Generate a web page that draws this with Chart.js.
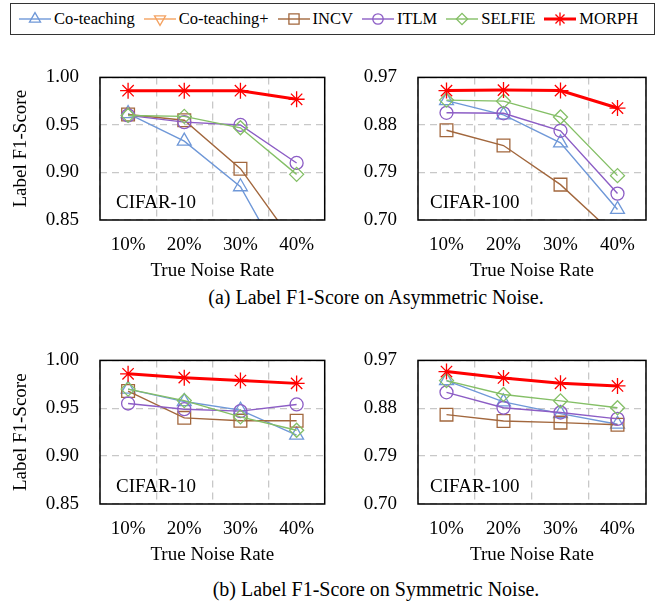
<!DOCTYPE html>
<html>
<head>
<meta charset="utf-8">
<script src="https://cdn.jsdelivr.net/npm/chart.js@4.4.0/dist/chart.umd.min.js"></script>
<style>
body { margin: 0; background: #fff; width: 664px; height: 606px; position: relative; overflow: hidden; font-family: "Liberation Serif", "DejaVu Serif", serif; color: #000; }
canvas.panel { position: absolute; }
#legend { position: absolute; left: 10px; top: 3px; width: 645px; height: 32px; box-sizing: border-box; border: 1.5px solid #333; display: flex; align-items: center; gap: 9px; padding-left: 8px; font-size: 16.5px; }
#legend .item { display: flex; align-items: center; gap: 3px; white-space: nowrap; }
.caption { position: absolute; left: 0; width: 752px; text-align: center; font-size: 20px; white-space: nowrap; }
</style>
</head>
<body>
<div id="legend"></div>
<canvas class="panel" id="asym10" width="335" height="240" style="left:0;top:45px"></canvas>
<canvas class="panel" id="asym100" width="329" height="240" style="left:335px;top:45px"></canvas>
<canvas class="panel" id="sym10" width="335" height="241" style="left:0;top:328px"></canvas>
<canvas class="panel" id="sym100" width="329" height="241" style="left:335px;top:328px"></canvas>
<div class="caption" style="top:286px">(a) Label F1-Score on Asymmetric Noise.</div>
<div class="caption" style="top:578px">(b) Label F1-Score on Symmetric Noise.</div>

<script>
// categories and tick labels
const noiseRates = ['10%', '20%', '30%', '40%'];
const methods = ['Co-teaching', 'Co-teaching+', 'INCV', 'ITLM', 'SELFIE', 'MORPH'];
const ticksC10 = [0.85, 0.90, 0.95, 1.00];
const ticksC100 = [0.70, 0.79, 0.88, 0.97];

// (a) asymmetric noise, CIFAR-10
const asym10CoTeaching = [0.962, 0.933, 0.885, 0.780];
const asym10CoTeachingPlus = [null, null, null, null];
const asym10Incv = [0.961, 0.955, 0.904, 0.822];
const asym10Itlm = [0.960, 0.953, 0.950, 0.910];
const asym10Selfie = [0.960, 0.959, 0.947, 0.898];
const asym10Morph = [0.986, 0.986, 0.986, 0.977];

// (a) asymmetric noise, CIFAR-100
const asym100CoTeaching = [0.926, 0.899, 0.846, 0.720];
const asym100CoTeachingPlus = [null, null, null, null];
const asym100Incv = [0.870, 0.841, 0.767, 0.667];
const asym100Itlm = [0.903, 0.902, 0.869, 0.750];
const asym100Selfie = [0.927, 0.925, 0.895, 0.784];
const asym100Morph = [0.945, 0.946, 0.945, 0.912];

// (b) symmetric noise, CIFAR-10
const sym10CoTeaching = [0.970, 0.957, 0.948, 0.922];
const sym10CoTeachingPlus = [null, null, null, null];
const sym10Incv = [0.968, 0.940, 0.937, 0.937];
const sym10Itlm = [0.955, 0.949, 0.947, 0.954];
const sym10Selfie = [0.970, 0.958, 0.941, 0.927];
const sym10Morph = [0.986, 0.982, 0.979, 0.976];

// (b) symmetric noise, CIFAR-100
const sym100CoTeaching = [0.932, 0.892, 0.870, 0.850];
const sym100CoTeachingPlus = [null, null, null, null];
const sym100Incv = [0.868, 0.856, 0.853, 0.849];
const sym100Itlm = [0.910, 0.881, 0.872, 0.860];
const sym100Selfie = [0.932, 0.906, 0.894, 0.881];
const sym100Morph = [0.949, 0.937, 0.927, 0.922];

// series styles
const colors = ['#6f98d8', '#f4a261', '#a2673d', '#8c5dc5', '#84bf66', '#ff0000'];
const markers = ['triangle', 'triangle', 'rect', 'circle', 'rectRot', 'star'];
const rotations = [0, 180, 0, 0, 0, 0];
const radii = [8, 8, 9, 6.5, 7, 8];
const lineWidths = [1.4, 1.4, 1.4, 1.4, 1.4, 3];

const serif = '"Liberation Serif", "DejaVu Serif", serif';
Chart.defaults.font.family = serif;
Chart.defaults.color = '#000';

const frame = {
  id: 'frame',
  afterDatasetsDraw(chart, args, opts) {
    const { ctx, chartArea: a } = chart;
    ctx.save();
    ctx.strokeStyle = '#000';
    ctx.lineWidth = 1.5;
    ctx.strokeRect(a.left, a.top, a.right - a.left, a.bottom - a.top);
    ctx.font = '19px ' + serif;
    ctx.fillStyle = '#000';
    ctx.textBaseline = 'middle';
    ctx.fillText(opts.tag, a.left + opts.tagX, a.bottom - 17);
    ctx.restore();
  }
};

function makePanel(id, series, yTicks, tag, opts) {
  new Chart(document.getElementById(id), {
    type: 'line',
    data: {
      labels: noiseRates,
      datasets: series.map((d, i) => ({
        label: methods[i],
        data: d,
        borderColor: colors[i],
        borderWidth: lineWidths[i],
        pointStyle: markers[i],
        rotation: rotations[i],
        pointRadius: radii[i],
        pointBorderWidth: 1.3,
        pointBackgroundColor: 'rgba(0,0,0,0)',
        pointBorderColor: colors[i],
        fill: false,
        tension: 0,
        clip: 0,
        order: series.length - i
      }))
    },
    options: {
      responsive: false,
      animation: false,
      events: [],
      layout: { padding: { top: 18, right: opts.padRight, left: 0, bottom: 0 } },
      plugins: {
        legend: { display: false },
        tooltip: { enabled: false },
        frame: { tag: tag, tagX: opts.tagX }
      },
      scales: {
        x: {
          offset: true,
          grid: { offset: true, color: '#c8c8c8', lineWidth: 1.3, drawTicks: false },
          border: { display: false, dash: [7, 5] },
          ticks: { font: { size: 19 }, padding: 14, maxRotation: 0, autoSkip: false },
          title: { display: true, text: 'True Noise Rate', font: { size: 19 }, padding: { top: 0, bottom: 3 } },
          afterFit: s => { s.height = 65; }
        },
        y: {
          min: yTicks[0],
          max: yTicks[yTicks.length - 1],
          grid: { color: '#c8c8c8', lineWidth: 1.3, drawTicks: false },
          border: { display: false, dash: [7, 5] },
          ticks: { font: { size: 19 }, padding: 21, callback: v => Number(v).toFixed(2) },
          afterBuildTicks: s => { s.ticks = yTicks.map(v => ({ value: v })); },
          title: { display: opts.yTitle, text: 'Label F1-Score', font: { size: 19 }, padding: { top: 10, bottom: 0 } },
          afterFit: s => { s.width = opts.yWidth; }
        }
      }
    },
    plugins: [frame]
  });
}

const leftOpts = { padRight: 5, yWidth: 100, yTitle: true, tagX: 16 };
const rightOpts = { padRight: 18, yWidth: 83, yTitle: false, tagX: 12 };

function drawAll() {
  makePanel('asym10', [asym10CoTeaching, asym10CoTeachingPlus, asym10Incv, asym10Itlm, asym10Selfie, asym10Morph], ticksC10, 'CIFAR-10', leftOpts);
  makePanel('asym100', [asym100CoTeaching, asym100CoTeachingPlus, asym100Incv, asym100Itlm, asym100Selfie, asym100Morph], ticksC100, 'CIFAR-100', rightOpts);
  makePanel('sym10', [sym10CoTeaching, sym10CoTeachingPlus, sym10Incv, sym10Itlm, sym10Selfie, sym10Morph], ticksC10, 'CIFAR-10', leftOpts);
  makePanel('sym100', [sym100CoTeaching, sym100CoTeachingPlus, sym100Incv, sym100Itlm, sym100Selfie, sym100Morph], ticksC100, 'CIFAR-100', rightOpts);
}

// shared legend: line sample with the marker in the middle
const legend = document.getElementById('legend');
methods.forEach((m, i) => {
  const item = document.createElement('div');
  item.className = 'item';
  const c = document.createElement('canvas');
  c.width = 32; c.height = 18;
  const ctx = c.getContext('2d');
  ctx.strokeStyle = colors[i];
  ctx.lineWidth = lineWidths[i];
  ctx.beginPath(); ctx.moveTo(0, 9); ctx.lineTo(32, 9); ctx.stroke();
  ctx.fillStyle = 'rgba(0,0,0,0)';
  ctx.lineWidth = 1.3;
  if (Chart.helpers && Chart.helpers.drawPoint) {
    Chart.helpers.drawPoint(ctx, { pointStyle: markers[i], rotation: rotations[i], radius: radii[i] * 0.8, borderWidth: 1.3 }, 16, 9);
  }
  const t = document.createElement('span');
  t.textContent = m;
  item.appendChild(c);
  item.appendChild(t);
  legend.appendChild(item);
});

if (document.fonts && document.fonts.load) {
  document.fonts.load('19px "Liberation Serif"').then(drawAll, drawAll);
} else {
  drawAll();
}
</script>
</body>
</html>
